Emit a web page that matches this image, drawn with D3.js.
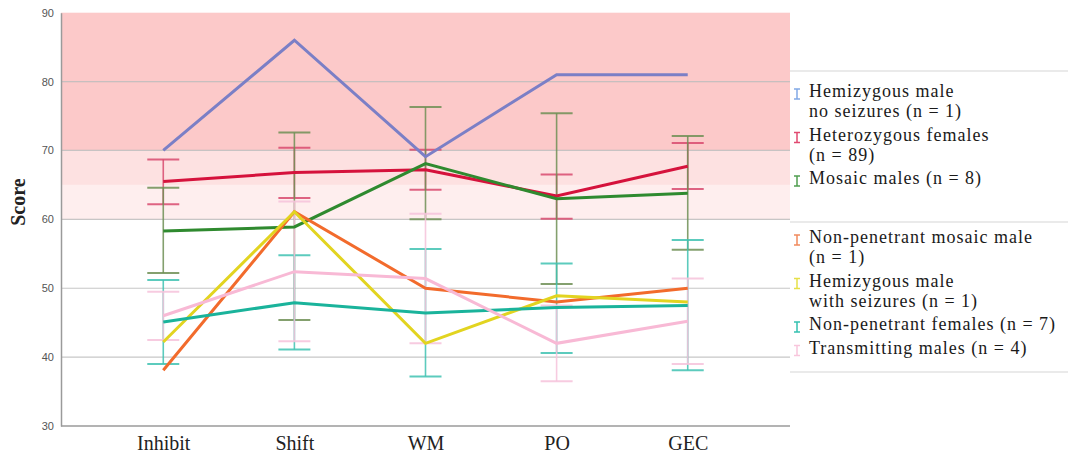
<!DOCTYPE html>
<html>
<head>
<meta charset="utf-8">
<script src="https://cdn.jsdelivr.net/npm/d3@7"></script>
<style>
  html, body { margin: 0; padding: 0; background: #fff; }
  svg { display: block; }
</style>
</head>
<body>
<svg id="chart" width="1068" height="459"></svg>
<script>
// Cognitive scores by genotype group
const categories = ["Inhibit", "Shift", "WM", "PO", "GEC"];
const yTicks = [30, 40, 50, 60, 70, 80, 90];

const seriesNames = [
  "Hemizygous male no seizures",
  "Heterozygous females",
  "Mosaic males",
  "Non-penetrant mosaic male",
  "Hemizygous male with seizures",
  "Non-penetrant females",
  "Transmitting males"
];

// group means
const hemiNoSeizures   = [70.0, 86.0, 69.1, 81.0, 81.0];
const hetFemales       = [65.5, 66.8, 67.2, 63.4, 67.7];
const mosaicMales      = [58.3, 58.9, 68.1, 63.0, 63.8];
const npMosaicMale     = [38.1, 61.1, 50.0, 48.0, 50.0];
const hemiSeizures     = [42.2, 61.1, 42.0, 48.9, 48.0];
const npFemales        = [45.1, 47.9, 46.4, 47.2, 47.5];
const transmitMales    = [46.0, 52.4, 51.4, 42.0, 45.2];

// error bar limits (groups with n = 1 have none)
const hetFemalesLow    = [62.2, 63.1, 64.3, 60.1, 64.4];
const hetFemalesHigh   = [68.7, 70.4, 70.1, 66.5, 71.1];
const mosaicMalesLow   = [52.2, 45.4, 60.0, 50.6, 55.6];
const mosaicMalesHigh  = [64.6, 72.6, 76.3, 75.4, 72.1];
const npFemalesLow     = [39.0, 41.1, 37.2, 40.6, 38.1];
const npFemalesHigh    = [51.2, 54.8, 55.7, 53.6, 57.0];
const transmitLow      = [42.5, 42.3, 42.0, 36.5, 39.0];
const transmitHigh     = [49.5, 62.6, 60.8, 47.5, 51.4];

// reference bands
const bandRanges = [[70, 90], [65, 70], [60, 65]];

// legend text, one entry per line of each item
const legendGroupA = [
  ["Hemizygous male", "no seizures (n = 1)"],
  ["Heterozygous females", "(n = 89)"],
  ["Mosaic males (n = 8)"]
];
const legendGroupB = [
  ["Non-penetrant mosaic male", "(n = 1)"],
  ["Hemizygous male", "with seizures (n = 1)"],
  ["Non-penetrant females (n = 7)"],
  ["Transmitting males (n = 4)"]
];

// ---- styling ----
const serif = "'Liberation Serif', 'Times New Roman', serif";
const lineColors = ["#7b7fc6", "#d5123c", "#2f8a2f", "#f26b2c", "#e2d420", "#1ab39b", "#f8b9d5"];
const barColors  = [null, "#d84a6e", "#6f8f55", null, null, "#40c2b2", "#f6c2da"];
const markColors = ["#82a8e6", "#e04a70", "#4f9e4f", "#f08a5c", "#e6e048", "#34c0b0", "#f8c6dc"];
const bandColors = ["#fcc9c9", "#fde1e1", "#feeeee"];

const meansBySeries = [hemiNoSeizures, hetFemales, mosaicMales, npMosaicMale, hemiSeizures, npFemales, transmitMales];
const lowBySeries  = [null, hetFemalesLow, mosaicMalesLow, null, null, npFemalesLow, transmitLow];
const highBySeries = [null, hetFemalesHigh, mosaicMalesHigh, null, null, npFemalesHigh, transmitHigh];

const svg = d3.select("#chart");
const plot = { left: 61, right: 790, top: 12.7, bottom: 426 };

const x = d3.scalePoint().domain(categories).range([plot.left, plot.right]).padding(0.78);
const y = d3.scaleLinear().domain([30, 90]).range([plot.bottom, plot.top]);

// bands
svg.append("g").selectAll("rect").data(bandRanges).join("rect")
  .attr("x", plot.left)
  .attr("width", plot.right - plot.left)
  .attr("y", d => y(d[1]))
  .attr("height", d => y(d[0]) - y(d[1]))
  .attr("fill", (d, i) => bandColors[i]);

// gridlines
svg.append("g").selectAll("line").data(yTicks.filter(t => t > 30 && t < 90)).join("line")
  .attr("x1", plot.left).attr("x2", plot.right)
  .attr("y1", d => y(d)).attr("y2", d => y(d))
  .attr("stroke", "#bdbdbd").attr("stroke-opacity", 0.85).attr("stroke-width", 1.2);

// axes
const yAxis = svg.append("g")
  .attr("transform", `translate(${plot.left},0)`)
  .call(d3.axisLeft(y).tickValues(yTicks).tickSize(0).tickPadding(7));
yAxis.select(".domain").attr("stroke", "#9a9a9a").attr("stroke-width", 1.5);
yAxis.selectAll("text").style("font-family", "'Liberation Sans', Arial, sans-serif")
  .style("font-size", "11px").attr("fill", "#555");

const xAxis = svg.append("g")
  .attr("transform", `translate(0,${plot.bottom})`)
  .call(d3.axisBottom(x).tickSize(0).tickPadding(10));
xAxis.select(".domain").attr("stroke", "#9a9a9a").attr("stroke-width", 1.5)
  .attr("d", `M${plot.left},0H${plot.right}`);
xAxis.selectAll("text").style("font-family", serif)
  .style("font-size", "20px").attr("fill", "#222");

// y title
svg.append("text")
  .attr("transform", `translate(25,${(y(60) + y(65)) / 2}) rotate(-90)`)
  .attr("text-anchor", "middle")
  .style("font-family", serif)
  .style("font-weight", "bold").style("font-size", "20px").attr("fill", "#222")
  .text("Score");

// error bars
const capHalf = 16;
const errG = svg.append("g");
meansBySeries.forEach((m, s) => {
  if (!lowBySeries[s]) return;
  categories.forEach((c, i) => {
    const g = errG.append("g").attr("stroke", barColors[s]).attr("stroke-opacity", 0.85);
    const cx = x(c);
    g.append("line").attr("x1", cx).attr("x2", cx)
      .attr("y1", y(highBySeries[s][i])).attr("y2", y(lowBySeries[s][i]))
      .attr("stroke-width", 1.6);
    [highBySeries[s][i], lowBySeries[s][i]].forEach(v => {
      g.append("line").attr("x1", cx - capHalf).attr("x2", cx + capHalf)
        .attr("y1", y(v)).attr("y2", y(v)).attr("stroke-width", 2);
    });
  });
});

// mean lines
const line = d3.line().x((d, i) => x(categories[i])).y(d => y(d));
svg.append("g").selectAll("path").data(meansBySeries).join("path")
  .attr("d", d => line(d))
  .attr("fill", "none")
  .attr("stroke", (d, i) => lineColors[i])
  .attr("stroke-width", 3)
  .attr("stroke-linejoin", "miter");

// legend
const legX = 790, legW = 278;
const sepYs = [71, 222, 372];
svg.append("g").selectAll("line").data(sepYs).join("line")
  .attr("x1", legX).attr("x2", legX + legW)
  .attr("y1", d => d).attr("y2", d => d)
  .attr("stroke", "#d6d6d6").attr("stroke-width", 1.2);

const lineStep = 20, itemGap = 3.5;
function drawLegendGroup(items, firstBaseline, seriesOffset) {
  let yb = firstBaseline;
  items.forEach((lines, k) => {
    const s = seriesOffset + k;
    const my = yb - 3;
    const mg = svg.append("g").attr("stroke", markColors[s]).attr("stroke-width", 1.5);
    mg.append("line").attr("x1", 797).attr("x2", 797).attr("y1", my - 5).attr("y2", my + 5);
    mg.append("line").attr("x1", 794).attr("x2", 800).attr("y1", my - 5).attr("y2", my - 5);
    mg.append("line").attr("x1", 794).attr("x2", 800).attr("y1", my + 5).attr("y2", my + 5);
    const t = svg.append("text")
      .attr("x", 809).attr("y", yb)
      .style("font-family", serif)
      .style("font-size", "18px")
      .style("letter-spacing", "1px")
      .attr("fill", "#1a1a1a");
    lines.forEach((str, j) => {
      t.append("tspan").attr("x", 809).attr("dy", j === 0 ? 0 : lineStep).text(str);
    });
    yb += lines.length * lineStep + itemGap;
  });
}
drawLegendGroup(legendGroupA, 97, 0);
drawLegendGroup(legendGroupB, 243, 3);
</script>
</body>
</html>
